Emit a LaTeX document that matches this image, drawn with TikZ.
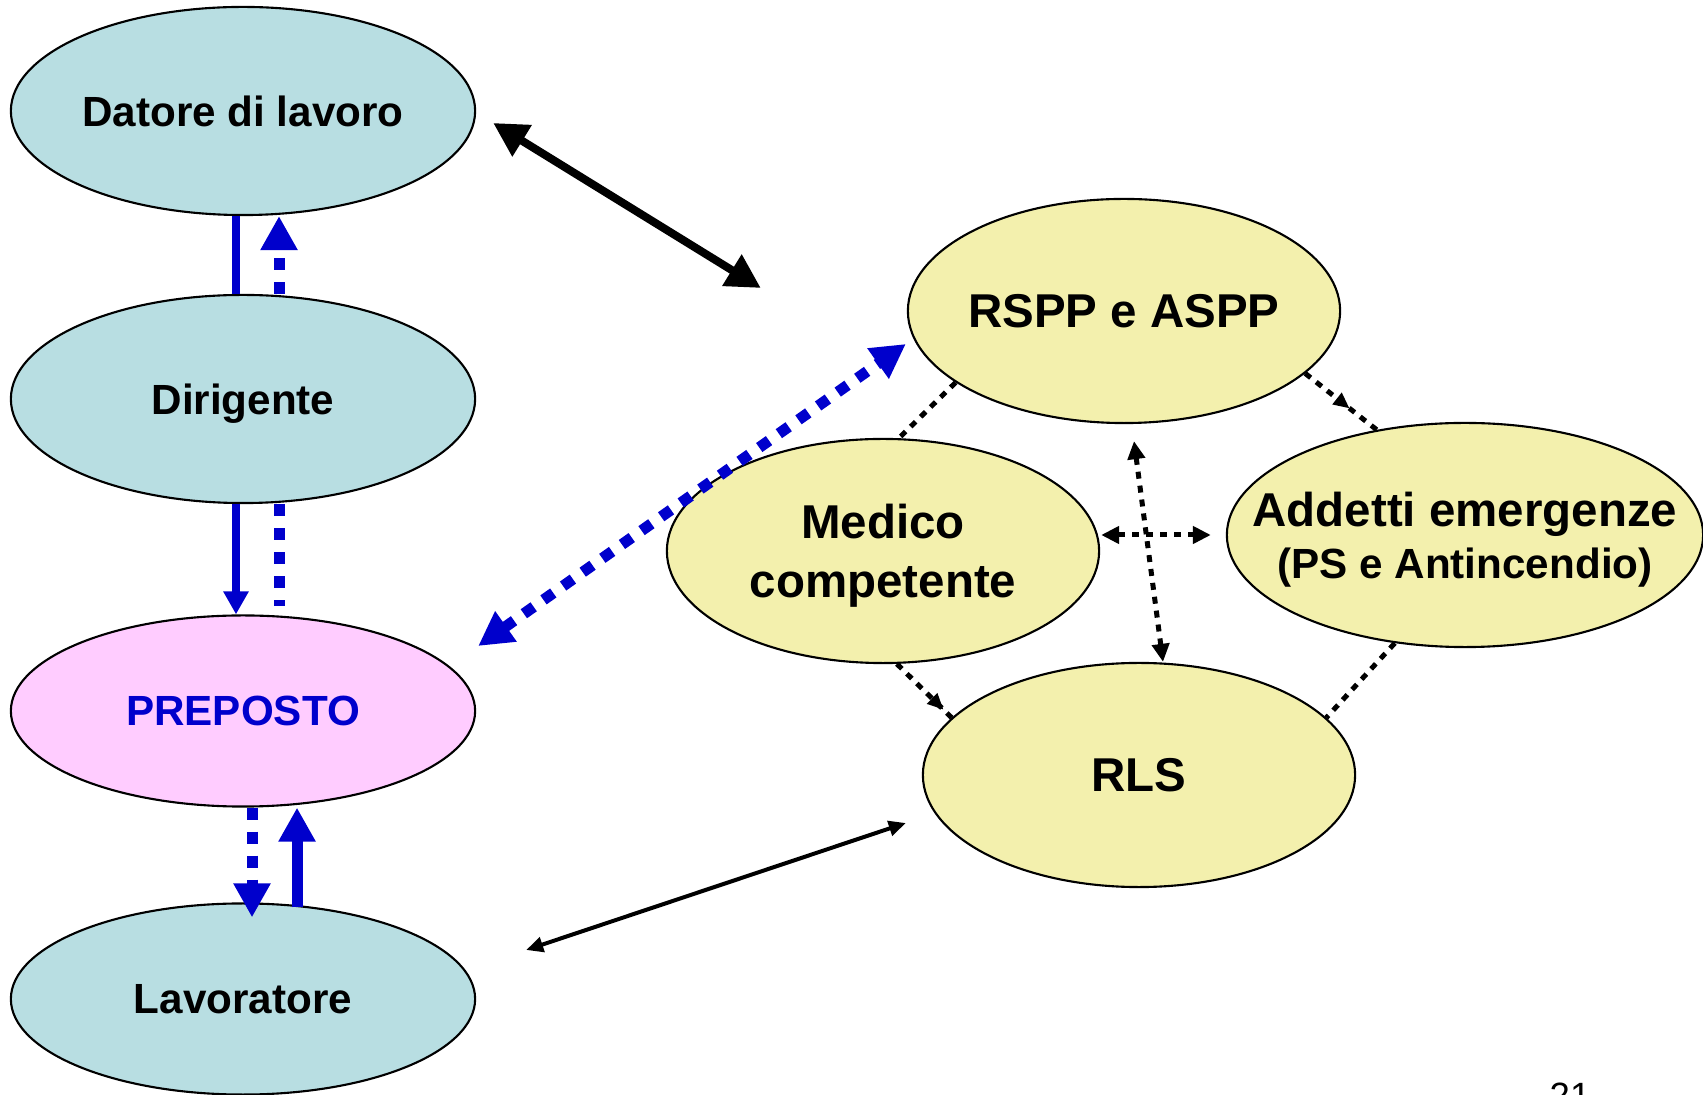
\documentclass[tikz,border=0pt]{standalone}
\usepackage{fontspec}
\setmainfont{Liberation Sans}
\usetikzlibrary{shapes.geometric, arrows.meta, calc, decorations.markings}
\definecolor{staffblue}{RGB}{184,222,226}
\definecolor{serviceyellow}{RGB}{243,240,173}
\definecolor{prepink}{RGB}{255,204,255}
\definecolor{linkblue}{RGB}{0,0,204}
\tikzset{staff/.style = {ellipse,draw,line width=0.6pt,fill=staffblue,inner sep=0pt,text depth=0pt,
                         minimum width=4.64cm,minimum height=2.08cm,font=\bfseries\fontsize{12}{14.4}\selectfont},
         service/.style = {ellipse,draw,line width=0.6pt,fill=serviceyellow,inner sep=0pt,text depth=0pt,align=center,
                           minimum width=4.32cm,minimum height=2.24cm,font=\bfseries\fontsize{13.5}{16.7}\selectfont},
         bigarrow/.style = {line width=0.08cm,{Triangle[length=3.4mm,width=3.5mm]}-{Triangle[length=3.4mm,width=3.5mm]}},
         thinarrow/.style = {line width=0.04cm,{Triangle[length=1.7mm,width=1.5mm]}-{Triangle[length=1.7mm,width=1.5mm]}},
         bluesolid/.style = {draw=linkblue,line width=0.07cm},
         bluedots/.style = {draw=linkblue,line width=0.11cm,dash pattern=on 0.12cm off 0.12cm},
         blackdots/.style = {line width=0.05cm,dash pattern=on 0.07cm off 0.07cm},
         dottips/.style = {{Triangle[length=1.8mm,width=1.7mm]}-{Triangle[length=1.8mm,width=1.7mm]}},
         midtip/.style = {postaction={decorate,decoration={markings,
                          mark=at position #1 with {\arrow{Triangle[length=1.6mm,width=1.4mm]}}}}}}
\begin{document}
\begin{tikzpicture}[x=0.01cm,y=-0.01cm]
    \useasboundingbox (0,0) rectangle (1703,1095);

    \node [staff] (datore) at (243,111) {Datore di lavoro};
    \node [staff] (dirigente) at (243,399) {Dirigente};
    \node [staff,fill=prepink,minimum height=1.91cm,text=linkblue] (preposto) at (243,711) {PREPOSTO};
    \node [staff,minimum height=1.91cm] (lavoratore) at (243,999) {Lavoratore};

    \node [service,inner xsep=-0.1cm] (rspp) at (1124,311) {RSPP e ASPP};
    \node [service] (medico) at (883,551) {Medico\\competente};
    \node [service,minimum width=4.76cm,inner xsep=-0.6cm,font=\bfseries\fontsize{13.5}{14.8}\selectfont] (addetti) at (1465,535)
          {Addetti emergenze\\{\fontsize{12}{14.8}\selectfont (PS e Antincendio)}};
    \node [service] (rls) at (1139,775) {RLS};

    \node [font=\fontsize{10.4}{12}\selectfont,anchor=base] (pagenum) at (1570,1108) {21};

    \draw [bluesolid] ([xshift=-0.07cm]datore.south) -- ([xshift=-0.07cm]dirigente.north);
    \draw [bluedots,-{Triangle[length=3.4mm,width=3.5mm]}] ([xshift=0.36cm]dirigente.north) -- ([xshift=0.36cm]datore.south);
    \draw [bluesolid,-{Triangle[length=2.3mm,width=2.4mm]}] ([xshift=-0.07cm]dirigente.south) -- ([xshift=-0.07cm]preposto.north);
    \draw [bluedots,shorten >=0.08cm] ([xshift=0.36cm]dirigente.south) -- ([xshift=0.36cm]preposto.north);
    \draw [bluedots,-{Triangle[length=3.4mm,width=3.5mm]}] ([xshift=0.09cm]preposto.south) -- ([xshift=0.09cm,yshift=-0.15cm]lavoratore.north);
    \draw [bluesolid,line width=0.11cm,-{Triangle[length=3.4mm,width=3.5mm]}] ([xshift=0.54cm,yshift=-0.05cm]lavoratore.north) -- ([xshift=0.54cm]preposto.south);

    \draw [bigarrow] ($(datore.east)+(17,12)$) -- ($(rspp.west)+(-146,-23)$);
    \draw [thinarrow] ($(lavoratore.east)+(50,-49)$) -- ($(rls.west)+(-16,48)$);
    \draw [bluedots,{Triangle[length=3.4mm,width=3.5mm]}-{Triangle[length=3.4mm,width=3.5mm]}] ($(preposto.east)+(2,-65)$) -- ($(rspp.west)+(-1,33)$);

    \draw [blackdots] (rspp.203) -- (medico.82);
    \draw [blackdots,midtip=0.62] (rspp.341) -- (addetti.130);
    \draw [blackdots,midtip=0.85] (medico.277) -- (rls.163);
    \draw [blackdots] (addetti.237) -- (rls.17);
    \draw [blackdots,dottips] ($(medico.east)+(1,-16)$) -- ($(addetti.west)+(-15,0)$);
    \draw [blackdots,dottips] ($(rspp.south)+(10,17)$) -- ($(rls.north)+(24,0)$);
\end{tikzpicture}
\end{document}
